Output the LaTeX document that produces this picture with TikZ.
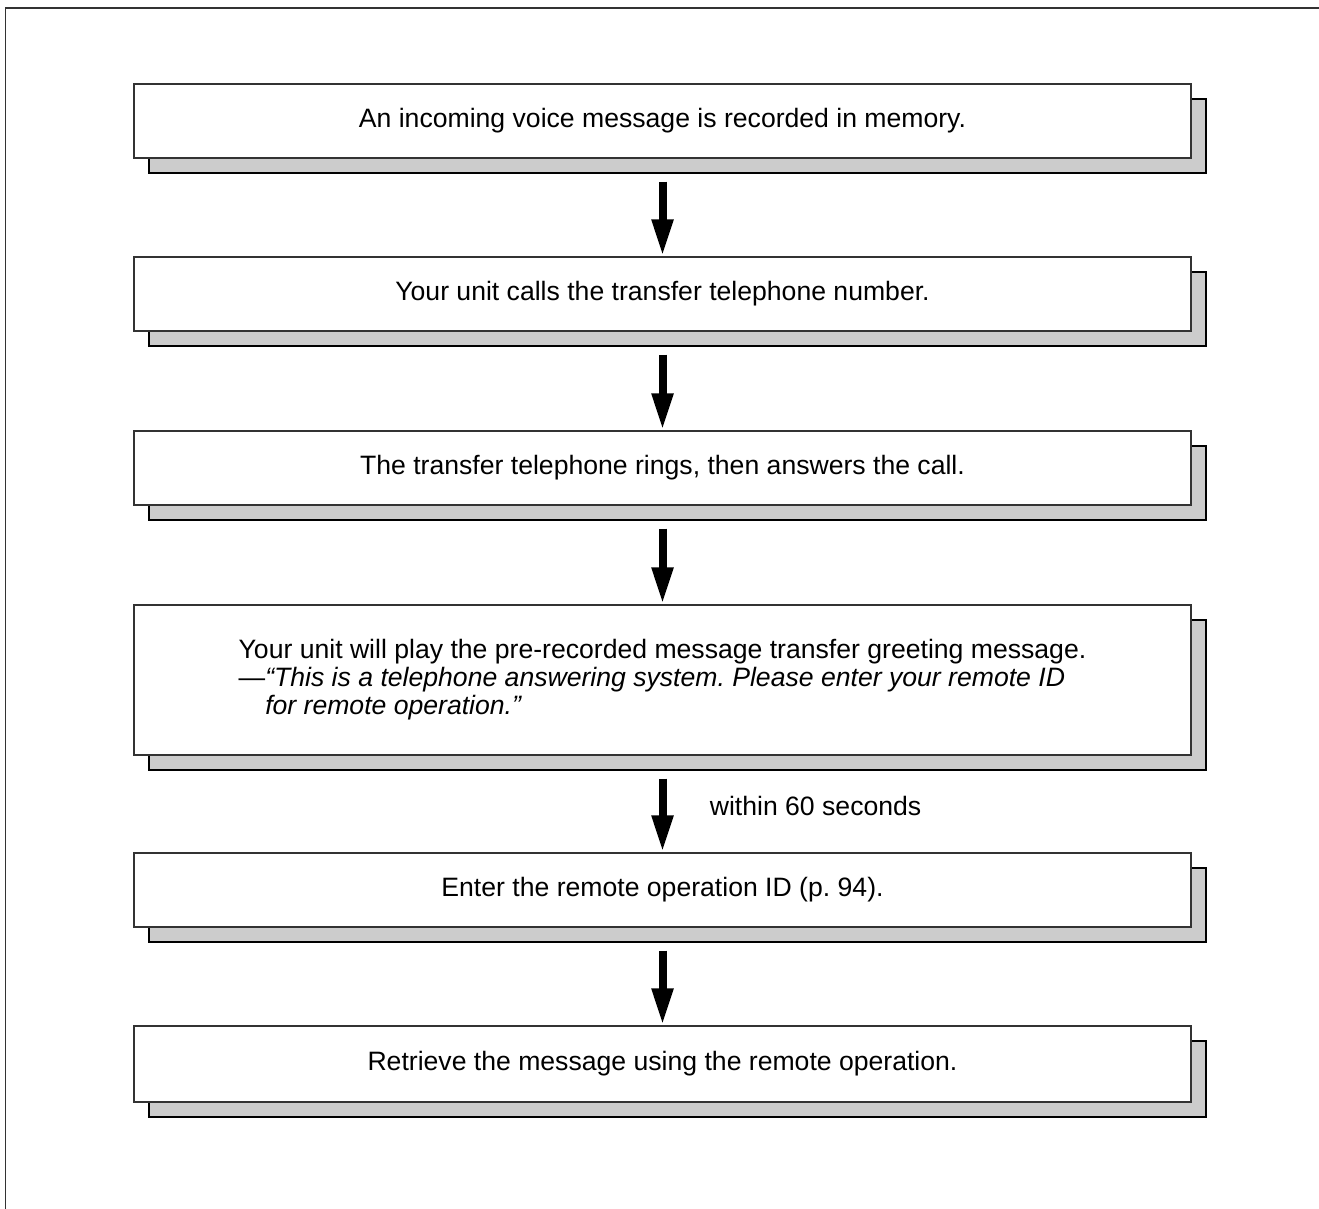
\documentclass[tikz,border=0pt]{standalone}
\usepackage{fontspec}
\setmainfont{Liberation Sans}
\usepackage{xcolor}
\usepackage{tikz}
\usetikzlibrary{positioning, arrows.meta, shadows}
\frenchspacing

\definecolor{edgegray}{HTML}{333333}
\definecolor{shadegray}{HTML}{CCCCCC}

\begin{document}
\begin{tikzpicture}[
      x=1pt, y=-1pt,
      font=\fontsize{26.6}{28}\selectfont,
      stepbox/.style={draw=edgegray, line width=1.4pt, fill=white, inner sep=0pt,
        minimum width=1057pt, minimum height=74pt, align=left,
        general shadow={shadow xshift=15pt, shadow yshift=-15pt, fill=shadegray, draw=black, line width=1.4pt}},
      arr/.style={line width=8pt, -{Triangle[width=20pt, length=37pt]}, shorten <=23pt}
    ]
    \useasboundingbox (0,0) rectangle (1319,1209);
    % outer frame (left and top only)
    \draw[edgegray, line width=1.4pt] (5.5,1209) -- (5.5,8) -- (1319,8);

    \node[stepbox] (rec) at (662.5,121) {An incoming voice message is recorded in memory.};
    \node[stepbox] (call) at (662.5,294) {Your unit calls the transfer telephone number.};
    \node[stepbox] (ring) at (662.5,468) {The transfer telephone rings, then answers the call.};
    \node[stepbox, minimum height=150pt] (greet) at (662.5,680)
      {Your unit will play the pre-recorded message transfer greeting message.\\
       —\textit{“This is a telephone answering system. Please enter your remote ID}\\
       \phantom{—}\textit{for remote operation.”}};
    \node[stepbox] (id) at (662.5,890) {Enter the remote operation ID (p.~94).};
    \node[stepbox, minimum height=76pt] (get) at (662.5,1064) {Retrieve the message using the remote operation.};

    \draw[arr] (rec.south) -- (call.north);
    \draw[arr] (call.south) -- (ring.north);
    \draw[arr] (ring.south) -- (greet.north);
    \draw[arr] (greet.south) -- node[anchor=base west, xshift=40pt, yshift=-11pt] (wait) {within 60 seconds} (id.north);
    \draw[arr] (id.south) -- (get.north);
  \end{tikzpicture}
\end{document}
